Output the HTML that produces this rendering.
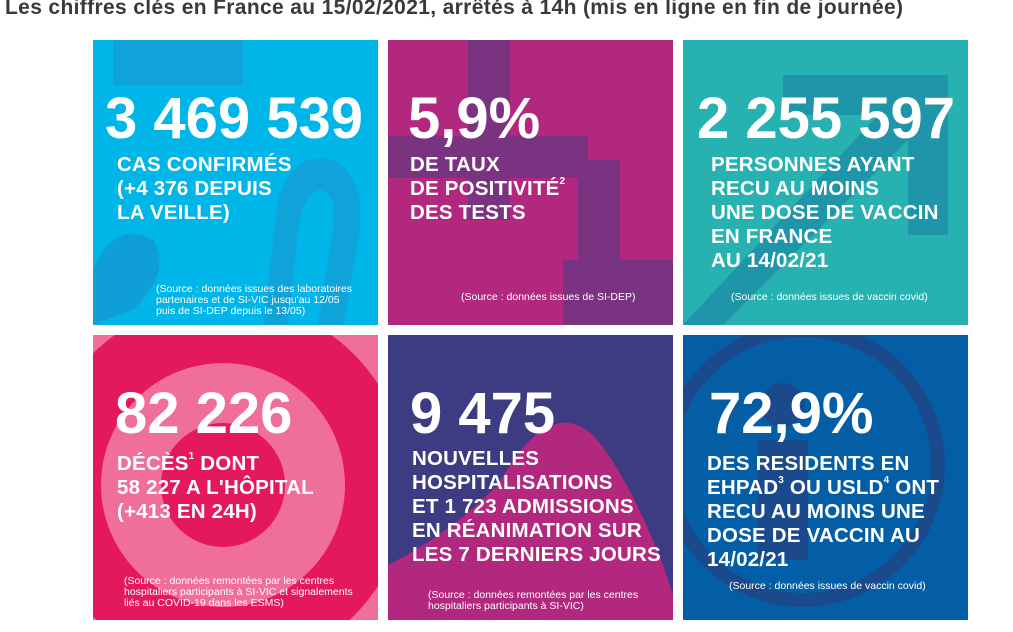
<!DOCTYPE html>
<html><head><meta charset="utf-8"><style>
html,body{margin:0;width:1013px;height:632px;overflow:hidden}
body{background:#fff;position:relative;font-family:"Liberation Sans",sans-serif}
.title{position:absolute;left:5px;top:-4px;font-size:21px;font-weight:bold;color:#3a3a3a;white-space:nowrap;letter-spacing:0.35px}
.t{position:absolute;width:285px;height:285px;overflow:hidden;color:#fff}
.n{position:absolute;font-weight:bold;font-size:58px;letter-spacing:0px;line-height:1;white-space:nowrap}
.l{position:absolute;font-weight:bold;font-size:20.5px;line-height:24px;white-space:nowrap;letter-spacing:0.2px}
.s{position:absolute;font-size:10.5px;line-height:11px;white-space:nowrap}
sup{font-size:10px;vertical-align:top;line-height:1}
svg{position:absolute;left:0;top:0}
</style></head><body>
<div class="title">Les chiffres clés en France au 15/02/2021, arrêtés à 14h (mis en ligne en fin de journée)</div>

<div class="t" style="left:93px;top:40px;background:#00b5e7">
<svg width="285" height="285"><path d="M0 230 Q20 180 60 200 Q80 230 40 270 L0 285Z" fill="#0f9fd6"/><path d="M170 285 L185 160 Q200 110 240 120 Q275 140 265 200 L250 285 L225 285 L240 190 Q245 150 225 150 Q210 155 205 190 L195 285Z" fill="#0fa3d9"/><rect x="20" y="0" width="130" height="45" fill="#0fa3d9"/></svg>
<div class="n" style="left:12px;top:50px">3 469 539</div>
<div class="l" style="left:24px;top:113px">CAS CONFIRMÉS<br>(+4 376 DEPUIS<br>LA VEILLE)</div>
<div class="s" style="left:63px;top:244px">(Source : données issues des laboratoires<br>partenaires et de SI-VIC jusqu'au 12/05<br>puis de SI-DEP depuis le 13/05)</div>
</div>

<div class="t" style="left:388px;top:40px;background:#b1287e">
<svg width="285" height="285"><rect x="80" y="0" width="42" height="180" fill="#7a3380"/><rect x="0" y="96" width="200" height="42" fill="#7a3380"/><rect x="175" y="220" width="110" height="65" fill="#7a3380"/><rect x="190" y="120" width="42" height="165" fill="#7a3380"/></svg>
<div class="n" style="left:20px;top:50px">5,9%</div>
<div class="l" style="left:22px;top:113px">DE TAUX<br>DE POSITIVITÉ<sup>2</sup><br>DES TESTS</div>
<div class="s" style="left:73px;top:252px">(Source : données issues de SI-DEP)</div>
</div>

<div class="t" style="left:683px;top:40px;background:#27b1b1">
<svg width="285" height="285"><path d="M100 35 L265 35 L265 195 L225 195 L225 100 L40 285 L0 285 L195 75 L100 75Z" fill="#1f95aa"/></svg>
<div class="n" style="left:14px;top:50px">2 255 597</div>
<div class="l" style="left:28px;top:113px">PERSONNES AYANT<br>RECU AU MOINS<br>UNE DOSE DE VACCIN<br>EN FRANCE<br>AU 14/02/21</div>
<div class="s" style="left:48px;top:252px">(Source : données issues de vaccin covid)</div>
</div>

<div class="t" style="left:93px;top:335px;background:#ef6e9a">
<svg width="285" height="285"><circle cx="130" cy="150" r="185" fill="#e4195b"/><circle cx="130" cy="150" r="122" fill="#ef6e9a"/><circle cx="130" cy="150" r="62" fill="#e4195b"/></svg>
<div class="n" style="left:22px;top:50px">82 226</div>
<div class="l" style="left:24px;top:117px">DÉCÈS<sup>1</sup> DONT<br>58 227 A L'HÔPITAL<br>(+413 EN 24H)</div>
<div class="s" style="left:31px;top:241px">(Source : données remontées par les centres<br>hospitaliers participants à SI-VIC et signalements<br>liés au COVID-19 dans les ESMS)</div>
</div>

<div class="t" style="left:388px;top:335px;background:#3d3c83">
<svg width="285" height="285"><path d="M0 285 L0 230 Q60 200 110 150 Q160 60 205 100 Q240 140 275 230 L285 260 L285 285Z" fill="#b1287e"/></svg>
<div class="n" style="left:22px;top:50px">9 475</div>
<div class="l" style="left:24px;top:112px">NOUVELLES<br>HOSPITALISATIONS<br>ET 1 723 ADMISSIONS<br>EN RÉANIMATION SUR<br>LES 7 DERNIERS JOURS</div>
<div class="s" style="left:40px;top:255px">(Source : données remontées par les centres<br>hospitaliers participants à SI-VIC)</div>
</div>

<div class="t" style="left:683px;top:335px;background:#045ea6">
<svg width="285" height="285"><circle cx="120" cy="130" r="135" fill="none" stroke="#1a4a8c" stroke-width="14"/><circle cx="100" cy="70" r="22" fill="#1a4a8c"/><rect x="75" y="105" width="50" height="120" fill="#1a4a8c"/></svg>
<div class="n" style="left:26px;top:50px">72,9%</div>
<div class="l" style="left:24px;top:117px">DES RESIDENTS EN<br>EHPAD<sup>3</sup> OU USLD<sup>4</sup> ONT<br>RECU AU MOINS UNE<br>DOSE DE VACCIN AU<br>14/02/21</div>
<div class="s" style="left:46px;top:246px">(Source : données issues de vaccin covid)</div>
</div>
</body></html>
